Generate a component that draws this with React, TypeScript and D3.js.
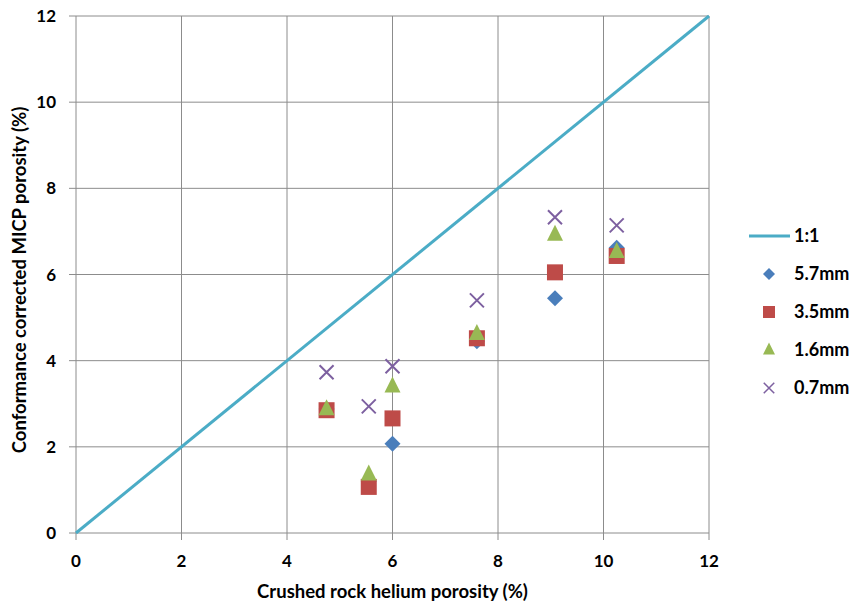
import * as d3 from 'd3'

const xTicks = [0, 2, 4, 6, 8, 10, 12]
const yTicks = [0, 2, 4, 6, 8, 10, 12]

const heliumPorosity = [4.75, 5.55, 6.0, 7.6, 9.08, 10.25]

const seriesNames = ['5.7mm', '3.5mm', '1.6mm', '0.7mm']
const mm57 = [2.88, 1.2, 2.07, 4.45, 5.45, 6.62]
const mm35 = [2.85, 1.07, 2.66, 4.52, 6.05, 6.43]
const mm16 = [2.87, 1.36, 3.4, 4.62, 6.92, 6.52]
const mm07 = [3.73, 2.94, 3.87, 5.4, 7.33, 7.14]

const oneToOne = [0, 12]

const colors = ['#4a7ebb', '#be4b48', '#98b954', '#7d60a0']
const lineColor = '#4bacc6'
const font = 'Lato, "Open Sans", sans-serif'

const W = 853
const H = 605
const margin = { top: 16, right: 144, bottom: 72, left: 76 }

function Marker({ kind, cx, cy, color }: { kind: number; cx: number; cy: number; color: string }) {
  if (kind === 0) {
    const r = 8
    return <path d={`M${cx},${cy - r}L${cx + r},${cy}L${cx},${cy + r}L${cx - r},${cy}Z`} fill={color} />
  }
  if (kind === 1) {
    const s = 16
    return <rect x={cx - s / 2} y={cy - s / 2} width={s} height={s} fill={color} />
  }
  if (kind === 2) {
    return <path d={`M${cx},${cy - 10}L${cx + 8},${cy + 6}L${cx - 8},${cy + 6}Z`} fill={color} />
  }
  const r = 7
  return (
    <path
      d={`M${cx - r},${cy - r}L${cx + r},${cy + r}M${cx - r},${cy + r}L${cx + r},${cy - r}`}
      stroke={color}
      strokeWidth={2}
      fill="none"
    />
  )
}

export default function App() {
  const x = d3.scaleLinear().domain([0, 12]).range([margin.left, W - margin.right])
  const y = d3.scaleLinear().domain([0, 12]).range([H - margin.bottom, margin.top])
  const allSeries = [mm57, mm35, mm16, mm07]

  const line = d3.line<number>().x(d => x(d)).y(d => y(d))

  const legendX = 749
  const legendY0 = 236
  const legendStep = 38

  return (
    <svg width={W} height={H} style={{ position: 'absolute', left: 0, top: 0, background: '#fff' }}>
      {xTicks.map(t => (
        <line key={'gx' + t} x1={x(t)} x2={x(t)} y1={y(0) + 7} y2={y(12)} stroke="#8c8c8c" strokeWidth={1} />
      ))}
      {yTicks.map(t => (
        <line key={'gy' + t} x1={x(0) - 7} x2={x(12)} y1={y(t)} y2={y(t)} stroke="#8c8c8c" strokeWidth={1} />
      ))}
      {xTicks.map(t => (
        <text key={'tx' + t} x={x(t)} y={y(0) + 34} textAnchor="middle" fontFamily={font} fontWeight="bold" fontSize={17} fill="#000">
          {t}
        </text>
      ))}
      {yTicks.map(t => (
        <text key={'ty' + t} x={x(0) - 20} y={y(t) + 6} textAnchor="end" fontFamily={font} fontWeight="bold" fontSize={17} fill="#000">
          {t}
        </text>
      ))}

      <path d={line(oneToOne) || ''} stroke={lineColor} strokeWidth={3} fill="none" />

      {allSeries.map((vals, si) =>
        vals.map((v, i) => (
          <Marker key={si + '-' + i} kind={si} cx={x(heliumPorosity[i])} cy={y(v)} color={colors[si]} />
        ))
      )}

      <text x={(x(0) + x(12)) / 2} y={598} textAnchor="middle" fontFamily={font} fontWeight="bold" fontSize={18.5} fill="#000">
        Crushed rock helium porosity (%)
      </text>
      <text
        transform={`translate(26,280) rotate(-90)`}
        textAnchor="middle"
        fontFamily={font}
        fontWeight="bold"
        fontSize={18.5}
        fill="#000"
      >
        Conformance corrected MICP porosity (%)
      </text>

      <line x1={legendX} x2={legendX + 41} y1={legendY0} y2={legendY0} stroke={lineColor} strokeWidth={3} />
      <text x={794} y={legendY0 + 6} fontFamily={font} fontWeight="bold" fontSize={18} fill="#000">
        1:1
      </text>
      {seriesNames.map((name, i) => {
        const ly = legendY0 + legendStep * (i + 1)
        return (
          <g key={name}>
            <g transform={`translate(${769},${ly}) scale(0.75) translate(${-769},${-ly})`}>
              <Marker kind={i} cx={769} cy={ly} color={colors[i]} />
            </g>
            <text x={794} y={ly + 6} fontFamily={font} fontWeight="bold" fontSize={18} fill="#000">
              {name}
            </text>
          </g>
        )
      })}
    </svg>
  )
}
